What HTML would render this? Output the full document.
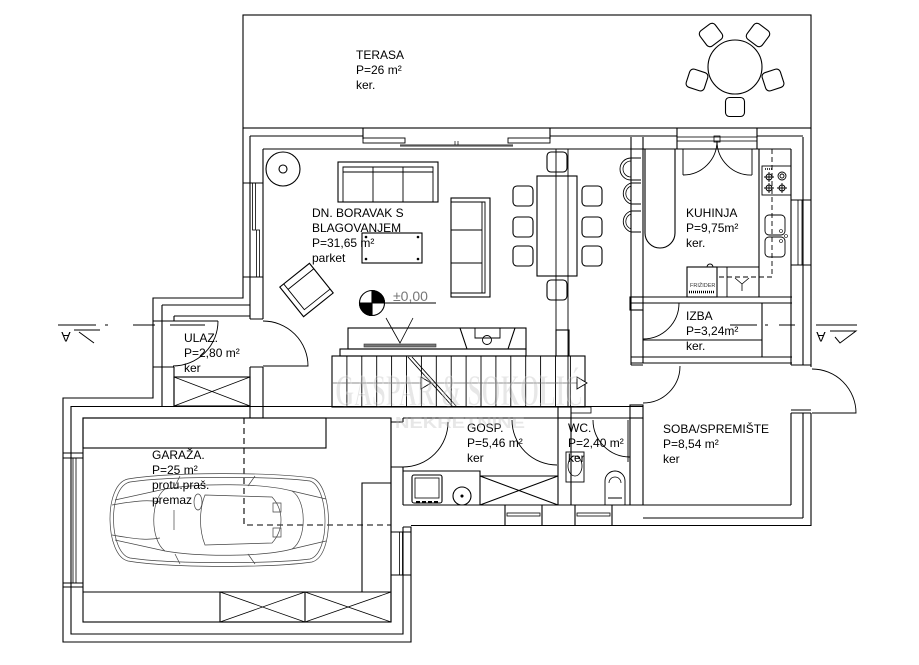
<!DOCTYPE html>
<html><head><meta charset="utf-8"><style>
html,body{margin:0;padding:0;background:#fff;}
svg{display:block;}
text{font-family:"Liberation Sans",Arial,sans-serif;font-size:12px;fill:#000;}
</style></head><body>
<svg width="919" height="665" viewBox="0 0 919 665" xmlns="http://www.w3.org/2000/svg">
<rect width="919" height="665" fill="#fff"/>
<g fill="none" stroke="#000" stroke-width="1.1">
<!-- TERRACE -->
<rect x="243" y="15" width="568" height="113"/>
<circle cx="735" cy="67" r="27"/>
<rect x="-9.5" y="-9.5" width="19" height="19" rx="4" transform="translate(711,35) rotate(-37)"/>
<rect x="-9.5" y="-9.5" width="19" height="19" rx="4" transform="translate(758,35) rotate(37)"/>
<rect x="-9.5" y="-9.5" width="19" height="19" rx="4" transform="translate(697,80) rotate(18)"/>
<rect x="-9.5" y="-9.5" width="19" height="19" rx="4" transform="translate(773,80) rotate(-18)"/>
<rect x="-9.5" y="-9.5" width="19" height="19" rx="4" transform="translate(735,107)"/>

<!-- TOP WALL -->
<path d="M250,136 H363 V128 M363,136 V139 M550,128 V139 M550,136 H677 M757,136 H803"/>
<path d="M263,149 H791"/>
<rect x="363" y="138" width="42" height="5" stroke-width="0.9"/>
<rect x="508" y="138" width="42" height="5" stroke-width="0.9"/>
<path d="M400,145.5 H513" stroke="#555" stroke-width="2.2"/>
<path d="M455,141 V145 M458,141 V145" stroke-width="0.7"/>
<path d="M677,128 V149 M757,128 V149"/>
<rect x="677" y="137" width="80" height="4" stroke-width="0.8"/>
<rect x="714" y="136" width="6" height="6" stroke-width="0.8"/>

<!-- LEFT WALL LIVING -->
<path d="M243,128 V298 H153 V398 H63 V642 H411 V527 H403"/>
<path d="M250,136 V319 M250,367 V418"/>
<path d="M263,149 V319 M263,367 V418"/>
<path d="M243,183 H263 M243,277 H263"/>
<rect x="252.5" y="183" width="3" height="47" stroke-width="0.8"/>
<rect x="256.5" y="230" width="3" height="47" stroke-width="0.8"/>
<path d="M250,319 H263 M250,367 H263"/>
<path d="M263,321 A45,45 0 0 1 308,366 H263" stroke-width="0.9"/>

<!-- ULAZ -->
<path d="M162,305 H250 M162,305 V406 M174,316 H250 M174,316 V321 M174,367 V406"/>
<path d="M153,321 H174 M153,367 H174"/>
<path d="M218,321 A45,45 0 0 1 173,366" stroke-width="0.9"/>
<path d="M173,321 H218" stroke-width="0.9"/>
<rect x="174" y="377" width="76" height="29"/>
<path d="M174,377 L250,406 M250,377 L174,406" stroke-width="0.8"/>

<!-- GARAGE -->
<path d="M71,406 V634 H403 V527"/>
<path d="M71,406.5 H643"/>
<rect x="83" y="418" width="308" height="204"/>
<path d="M63,453 H83 M63,458 H83 M63,583 H83 M63,587 H83"/>
<rect x="73" y="458" width="3" height="125" stroke-width="0.8"/>
<rect x="83" y="418" width="243" height="30"/>
<path d="M391,483 H362 V592 M83,592 H391"/>
<rect x="220" y="592" width="85" height="30"/>
<path d="M220,592 L305,622 M305,592 L220,622 M305,592 L391,622 M391,592 L305,622" stroke-width="0.8"/>
<path d="M244,418 V525 H391" stroke-dasharray="6,4"/>
<path d="M391,532 H411 M391,575 H411"/>
<rect x="399.5" y="532" width="3" height="43" stroke-width="0.8"/>
<path d="M391,418 V622 M403,418 V422 M403,467 V505"/>
<path d="M391,422 H403 M391,467 H403"/>
<path d="M448,422 A45,45 0 0 1 403,467" stroke-width="0.9"/>

<!-- STAIRS / LIVING CENTRE -->
<path d="M83,418 H391 M403,418 H558 M571,418 H630"/>
<rect x="332" y="356" width="253" height="51"/>
<path d="M346.9,356V407M361.8,356V407M376.7,356V407M391.6,356V407M406.5,356V407M421.4,356V407M436.3,356V407M451.2,356V407M466.1,356V407M481,356V407M495.9,356V407M510.8,356V407M525.7,356V407M540.6,356V407M555.5,356V407M570.4,356V407" stroke-width="0.9"/>
<path d="M332,383 H578" stroke="#666" stroke-width="0.8"/>
<path d="M421,377 L431,383 L421,389 Z M577,377 L587,383 L577,389 Z" stroke-width="0.9" fill="#fff"/>
<path d="M408,357 L453,407 M412,357 L457,407" stroke-width="0.9"/>
<rect x="340" y="349" width="186" height="7"/>
<rect x="348" y="328" width="178" height="21"/>
<rect x="364" y="344" width="72" height="3" fill="#777" stroke="#333" stroke-width="0.6"/>
<path d="M460,328 L515,328 L508,349 L467,349 Z"/>
<path d="M475,328 V338 H500 V328" stroke-width="0.9"/>
<circle cx="487" cy="340" r="4.5" stroke-width="0.9"/>
<path d="M386,318 L400,343 L413,318" stroke-width="0.8"/>
<path d="M384,303 H436" stroke-width="0.9"/>

<!-- beams & columns -->
<path d="M556,149 V330 M568,149 V407" stroke-width="0.9"/>
<rect x="556" y="330" width="13" height="26"/>
<rect x="558" y="407" width="13" height="11"/>
<rect x="630" y="405" width="13" height="13"/>
<rect x="571" y="407" width="20" height="6" stroke-width="0.8"/>

<!-- living furniture -->
<circle cx="283" cy="169" r="17"/>
<circle cx="283" cy="169" r="4"/>
<rect x="338" y="162" width="100" height="40"/>
<path d="M343,202 V167 H433 V202 M343,172 H433 M373,167 V202 M403,167 V202" stroke-width="0.9"/>
<rect x="451" y="198" width="39" height="99"/>
<path d="M451,202 H485 V293 H451 M482,202 V293 M451,230 H482 M451,263 H482" stroke-width="0.9"/>
<rect x="362" y="233" width="60" height="30"/>
<g fill="#000" stroke="none"><circle cx="366" cy="237" r="1.3"/><circle cx="418" cy="237" r="1.3"/><circle cx="366" cy="259" r="1.3"/><circle cx="418" cy="259" r="1.3"/></g>
<g transform="translate(306.5,290) rotate(-38.7)">
<rect x="-19" y="-19" width="38" height="38"/>
<path d="M-14,-19 V14 H19 M-14,-12 H19" stroke-width="0.9"/>
</g>
<circle cx="372" cy="303" r="12.5"/>
<path d="M372,303 L372,290.5 A12.5,12.5 0 0 1 384.5,303 Z M372,303 L372,315.5 A12.5,12.5 0 0 1 359.5,303 Z" fill="#000"/>

<!-- dining -->
<rect x="537" y="176" width="40" height="100"/>
<rect x="513" y="186" width="20" height="20" rx="4"/>
<rect x="513" y="217" width="20" height="20" rx="4"/>
<rect x="513" y="246" width="20" height="20" rx="4"/>
<rect x="582" y="186" width="20" height="20" rx="4"/>
<rect x="582" y="217" width="20" height="20" rx="4"/>
<rect x="582" y="246" width="20" height="20" rx="4"/>
<rect x="547" y="152" width="20" height="20" rx="4"/>
<rect x="547" y="280" width="20" height="20" rx="4"/>

<!-- KITCHEN -->
<path d="M631,137 V363 M643,137 V297 M643,310 V363"/>
<rect x="630" y="297" width="13" height="13"/>
<path d="M631,297 H792 M631,303 H792"/>
<path d="M641,158 H631 A11,11 0 0 0 631,180 H641 M641,183 H631 A11,11 0 0 0 631,204 H641 M641,211 H631 A11,11 0 0 0 631,232 H641" stroke-width="0.9"/>
<path d="M631,161 A8,8 0 0 0 631,177 M631,186 A8,8 0 0 0 631,201 M631,214 A8,8 0 0 0 631,229" stroke-width="0.8"/>
<path d="M645,149 V233 A15,15 0 0 0 675,233 V149"/>
<path d="M683,149 V175 M683,175 A34,34 0 0 0 717,141 M752,149 V175 M752,175 A34,34 0 0 1 717,141" stroke-width="0.9"/>
<path d="M759,149 V297 M687,267 H759"/>
<rect x="687" y="267" width="30" height="30"/>
<path d="M689,292 H715" stroke-width="2.5" stroke-dasharray="1,1"/>
<path d="M707,267 A3,3 0 0 1 713,267" stroke-width="0.9"/>
<path d="M727,267 V297" stroke-width="0.9"/>
<path d="M735,278 L742,284 L749,278 M742,284 V291" stroke-width="0.8"/>
<path d="M772,149 V277 H717" stroke-dasharray="5,3" stroke-width="0.9"/>
<rect x="762" y="166" width="29" height="29" stroke-width="0.9"/>
<g stroke-width="0.9">
<circle cx="769" cy="177" r="3"/><circle cx="782" cy="176" r="4"/><circle cx="782" cy="176" r="2"/>
<circle cx="769" cy="188" r="3"/><circle cx="782" cy="188" r="3"/>
<path d="M764,177H774M769,172V182M764,188H774M769,183V193M777,188H787M782,183V193"/>
</g>
<path d="M765,169 H772" stroke-width="1.5" stroke-dasharray="1,1"/>
<rect x="765" y="215" width="20" height="20" rx="4" stroke-width="0.9"/>
<rect x="765" y="237" width="20" height="20" rx="4" stroke-width="0.9"/>
<circle cx="781" cy="231" r="1.5" stroke-width="0.6"/><circle cx="786" cy="236" r="1.5" stroke-width="0.6"/><circle cx="781" cy="241" r="1.5" stroke-width="0.6"/>

<!-- RIGHT WALLS -->
<path d="M791,149 V365 M791,413 V505 M803,137 V365 M803,413 V518 M811,128 V367 M811,413 V526"/>
<path d="M791,200 H811 M791,265 H811"/>
<rect x="798" y="200" width="4" height="65" stroke-width="0.8"/>
<path d="M791,365 H811 M791,410 H811 M791,413 H811"/>
<path d="M812,369 A44,44 0 0 1 856,413 H812" stroke-width="0.9"/>

<!-- IZBA -->
<path d="M643,340 H762 M762,303 V357 M631,357 H792 M631,363 H792"/>
<path d="M679,303 A36,36 0 0 1 643,339" stroke-width="0.9"/>

<!-- SOBA -->
<path d="M631,365 H643 M631,363 V365"/>
<path d="M680,366 A37,37 0 0 1 643,403" stroke-width="0.9"/>
<path d="M630,418 V505 M643,418 V505"/>

<!-- BOTTOM WALL -->
<path d="M403,505 H791 M411,525.5 H811 M643,518 H803"/>
<path d="M505,505 V525 M542,505 V525 M575,505 V525 M612,505 V525"/>
<rect x="507" y="513" width="33" height="3" stroke-width="0.8"/>
<rect x="577" y="513" width="33" height="3" stroke-width="0.8"/>

<!-- GOSP -->
<path d="M558,418 V505 M571,418 V505"/>
<path d="M403,471 H480 V505 M480,476 H558 M480,476 L558,505 M480,505 L558,476"/>
<rect x="412" y="475" width="30" height="28" rx="2"/>
<rect x="415" y="478" width="24" height="20" stroke-width="0.8"/>
<path d="M416,502 H438" stroke-width="2" stroke-dasharray="4,2"/>
<circle cx="462" cy="496" r="9"/>
<circle cx="462" cy="496" r="1" fill="#000"/>
<path d="M512,420 A45,45 0 0 0 557,465" stroke-width="0.9"/>

<!-- WC -->
<path d="M593,420 A37,37 0 0 0 630,457 M628,420 V462" stroke-width="0.9"/>
<rect x="566" y="452" width="18" height="30" stroke-width="0.9"/>
<ellipse cx="575" cy="466" rx="7" ry="10" stroke-width="0.8"/>
<path d="M605,505 V481 A10,10 0 0 1 625,481 V505 M608,498 H622" stroke-width="0.9"/>
<path d="M609,483 A6,6 0 0 1 621,483" stroke-width="0.8"/>

<!-- SECTION MARKS -->
<path d="M58,325 H96 M105,325 H108 M133,325 H155 M170,325 H205" stroke-width="0.9"/>
<path d="M74,330 H100 M79,332 L94,343" stroke-width="1"/>
<path d="M730,325 H757 M765,325 H768 M779,325 H795 M816,325 H857" stroke-width="0.9"/>
<path d="M830,331 H856 L840,343 L835,337" stroke-width="1"/>

<!-- CAR -->
<g stroke="#444" stroke-width="0.7">
<path d="M128,479 C170,472 270,472 312,478 C333,484 335,556 312,562 C270,568 170,568 128,561 C105,556 103,484 128,479 Z"/>
<path d="M130,482 C170,476 270,476 310,481 C329,487 331,553 310,559 C270,564 170,564 130,558 C109,553 107,487 130,482 Z"/>
<path d="M165,489 C200,483 262,483 292,491 C307,500 307,540 292,549 C262,557 200,557 165,551 C150,540 150,500 165,489 Z"/>
<path d="M205,495 L272,497 C284,510 284,530 272,543 L205,545 C199,530 199,510 205,495 Z"/>
<path d="M292,491 L326,499 M292,549 L326,541 M165,489 L115,500 M165,551 L115,540"/>
<path d="M112,505 C140,500 150,500 160,502 M112,535 C140,540 150,540 160,538"/>
<path d="M248,486 L255,476 M248,554 L255,564 M175,486 L180,476 M175,554 L180,564"/>
<ellipse cx="198" cy="502" rx="4" ry="8"/>
<path d="M273,503 H281 V512 H273 Z M273,528 H281 V537 H273 Z"/>
<path d="M174,510 V530"/>
</g>
</g>

<!-- TEXT -->
<text x="356" y="59">TERASA</text>
<text x="356" y="74">P=26 m²</text>
<text x="356" y="89">ker.</text>
<text x="312" y="217">DN. BORAVAK S</text>
<text x="312" y="232">BLAGOVANJEM</text>
<text x="312" y="247">P=31,65 m²</text>
<text x="312" y="262">parket</text>
<text x="686" y="217">KUHINJA</text>
<text x="686" y="232">P=9,75m²</text>
<text x="686" y="247">ker.</text>
<text x="686" y="320">IZBA</text>
<text x="686" y="335">P=3,24m²</text>
<text x="686" y="350">ker.</text>
<text x="184" y="342">ULAZ.</text>
<text x="184" y="357">P=2,80 m²</text>
<text x="184" y="372">ker</text>
<text x="152" y="459">GARAŽA.</text>
<text x="152" y="474">P=25 m²</text>
<text x="152" y="489">protu.praš.</text>
<text x="152" y="504">premaz</text>
<text x="467" y="432">GOSP.</text>
<text x="467" y="447">P=5,46 m²</text>
<text x="467" y="462">ker</text>
<text x="568" y="432">WC.</text>
<text x="568" y="447">P=2,40 m²</text>
<text x="568" y="462">ker</text>
<text x="663" y="433">SOBA/SPREMIŠTE</text>
<text x="663" y="448">P=8,54 m²</text>
<text x="663" y="463">ker</text>
<text x="393" y="301" style="font-size:14px;fill:#777">±0,00</text>
<text x="690" y="287" style="font-size:5.5px;fill:#333">FRIŽIDER</text>
<text x="0" y="5" text-anchor="middle" transform="translate(66,337) rotate(180)" style="font-size:14px">A</text>
<text x="0" y="5" text-anchor="middle" transform="translate(821,337) rotate(180)" style="font-size:14px">A</text>

<!-- WATERMARK -->
<g opacity="0.35">
<text x="335" y="405" textLength="248" lengthAdjust="spacingAndGlyphs" style="font-family:'Liberation Serif',serif;font-size:44px;font-weight:bold;fill:#bbb;stroke:#fff;stroke-width:1">GASPAR &amp; SOKOLIĆ</text>
<text x="395" y="428" textLength="130" lengthAdjust="spacingAndGlyphs" style="font-size:16px;font-weight:bold;fill:#bbb">NEKRETNINE</text>
</g>
</svg>
</body></html>
